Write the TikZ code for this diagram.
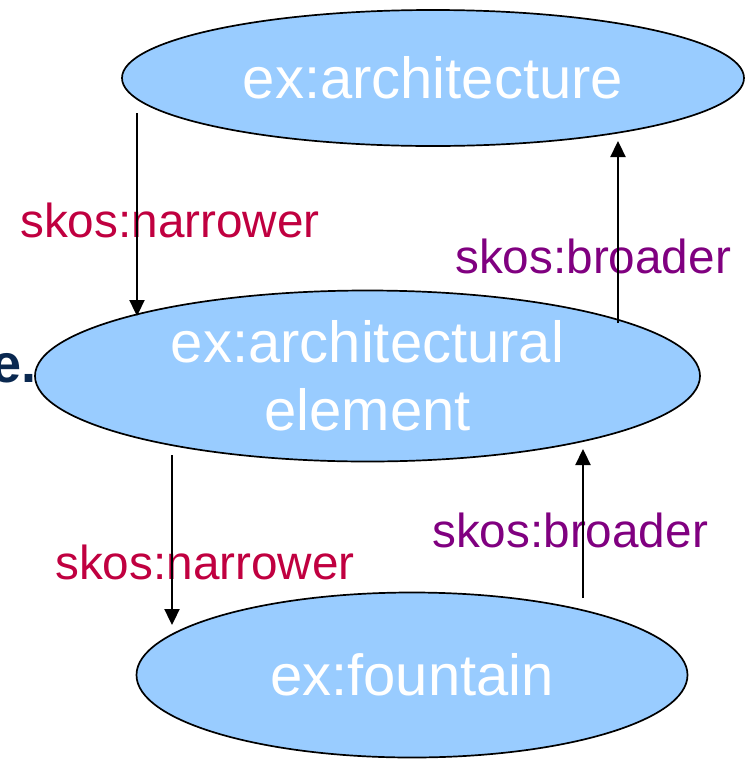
\documentclass[tikz,border=0pt]{standalone}
\usepackage{fontspec}
\setmainfont{Liberation Sans}
\usetikzlibrary{shapes.geometric,arrows.meta}
\definecolor{nodefill}{RGB}{153,204,255}
\definecolor{narrowc}{RGB}{192,0,64}
\definecolor{broadc}{RGB}{128,0,128}
\definecolor{navyc}{RGB}{10,40,80}
\tikzset{
  concept/.style={ellipse, draw=black, line width=1.7pt, fill=nodefill, text=white,
    inner sep=0pt, align=center, font=\fontsize{58}{68}\selectfont},
  rel/.style={anchor=base west, inner sep=0pt, font=\fontsize{47.7}{56}\selectfont},
  link/.style={line width=2.3pt, -{Triangle[width=15pt,length=16pt]}},
}
\begin{document}
\begin{tikzpicture}[x=1pt,y=-1pt]
\useasboundingbox (0,0) rectangle (747,761);
\node[anchor=base east, inner sep=0pt, text=navyc,
  font=\fontsize{54}{60}\selectfont\bfseries] (cut) at (37,382) {e.};

\node[concept, minimum width=622pt, minimum height=136pt] (arch) at (433,78) {ex:architecture};
\node[concept, minimum width=665pt, minimum height=171pt] (elem) at (367.5,376) {ex:architectural\\element};
\node[concept, minimum width=551pt, minimum height=165pt] (fount) at (412,675) {ex:fountain};

\node[rel, text=narrowc] (nl1) at (20,237) {skos:narrower};
\node[rel, text=broadc] (bl1) at (455,273) {skos:broader};
\node[rel, text=narrowc] (nl2) at (55,579) {skos:narrower};
\node[rel, text=broadc] (bl2) at (432,547) {skos:broader};

\coordinate (n1s) at (137,113);
\coordinate (n1e) at (137,316);
\coordinate (b1s) at (618,323);
\coordinate (b1e) at (618,141);
\coordinate (n2s) at (172,455);
\coordinate (n2e) at (172,625);
\coordinate (b2s) at (583,598);
\coordinate (b2e) at (583,449);

\draw[link] (n1s) -- (n1e);
\draw[link] (b1s) -- (b1e);
\draw[link] (n2s) -- (n2e);
\draw[link] (b2s) -- (b2e);
\end{tikzpicture}
\end{document}
